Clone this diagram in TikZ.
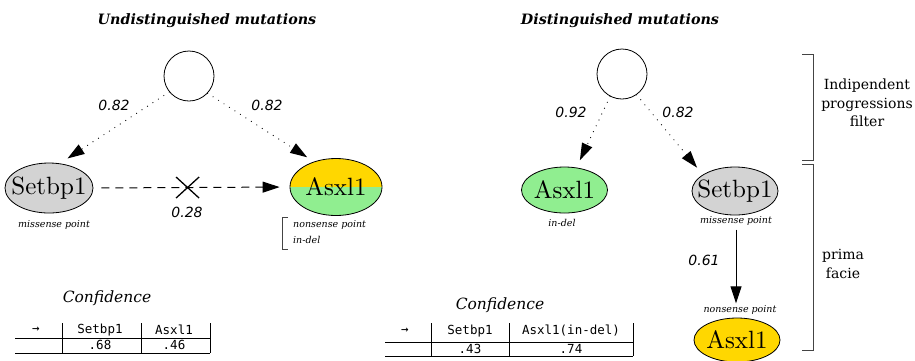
\documentclass[tikz,border=0pt]{standalone}
\usepackage{fontspec}
\newfontfamily\dserif{DejaVu Serif}
\newfontfamily\dsans{DejaVu Sans}
\newfontfamily\dmono{DejaVu Sans Mono}
\newfontfamily\lmten{lmroman10-regular}[Extension=.otf]
\usetikzlibrary{arrows.meta,shapes.geometric}
\definecolor{ggray}{HTML}{D3D3D3}
\definecolor{ggold}{HTML}{FFD700}
\definecolor{ggreen}{HTML}{90EE90}
\definecolor{brk}{HTML}{444444}
\newcommand{\gname}[1]{\makebox[0pt]{#1}}
\tikzset{
  gene/.style={ellipse, draw, line width=0.8pt, inner sep=0pt, font=\lmten\fontsize{25}{25}\selectfont},
  root/.style={circle, draw, line width=0.8pt, minimum size=50pt, inner sep=0pt},
  prob/.style={font=\dsans\itshape\fontsize{14}{14}\selectfont},
  note/.style={font=\dserif\itshape\fontsize{9.5}{9.5}\selectfont, inner sep=0pt},
  title/.style={font=\dserif\bfseries\itshape\fontsize{14.3}{14.3}\selectfont},
  conf/.style={font=\dserif\itshape\fontsize{15.5}{15.5}\selectfont},
  side/.style={font=\dserif\fontsize{14}{18.5}\selectfont, align=center},
  cell/.style={font=\dmono\fontsize{12.5}{12.5}\selectfont, inner sep=0pt},
  tip/.style={-{Triangle[length=17pt,width=11pt]}},
  dotarrow/.style={tip, line width=1.2pt, line cap=round, dash pattern=on 0pt off 6.5pt},
  dasharrow/.style={tip, line width=1pt, dash pattern=on 8pt off 6pt},
  solidarrow/.style={tip, line width=1pt},
  tline/.style={line width=0.9pt},
  bracketline/.style={line width=1pt, brk},
}
\begin{document}
\begin{tikzpicture}[x=1pt,y=-1pt]
\useasboundingbox (0,0) rectangle (915,360);

% ---------- left panel ----------
\node[title] (t1) at (207,21) {Undistinguished mutations};
\node[root] (c1) at (189,76) {};
\node[gene, fill=ggray, minimum width=88pt, minimum height=50pt] (s1) at (49,188) {\gname{Setbp1}};
\node[gene, minimum width=92pt, minimum height=57pt,
  path picture={\fill[ggold] (path picture bounding box.north west) rectangle (path picture bounding box.east);
                \fill[ggreen] (path picture bounding box.west) rectangle (path picture bounding box.south east);}] (a1) at (336,187) {\gname{Asxl1}};

\draw[dotarrow, shorten >=9pt] (c1.219) -- (s1.66);
\draw[dotarrow, shorten >=8pt] (c1.317) -- (a1.131);
\node[prob] (p1) at (114,105) {0.82};
\node[prob] (p2) at (267,105) {0.82};

\draw[dasharrow, shorten <=8pt, shorten >=10pt] (s1.east) -- node[pos=0.48, minimum width=22pt, minimum height=20pt, inner sep=0pt] (x1) {} (a1.west);
\draw[line width=1.3pt] (x1.north west) -- (x1.south east) (x1.north east) -- (x1.south west);
\node[prob] (p3) at (187,212) {0.28};

\node[note] (m1) at (54,225) {missense point};
\node[note, anchor=west] (n1) at (293,225) {nonsense point};
\node[note, anchor=west] (n1b) at (293,240) {in-del};
\draw[line width=0.8pt, brk] (288,217) -- (282,217) -- (282,249) -- (288,249);

\node[conf] (cf1) at (107,298) {Confidence};
\draw[tline] (62,323) -- (62,353);
\draw[tline] (141,323) -- (141,353);
\draw[tline] (210,323) -- (210,353);
\draw[tline] (15,338) -- (210,338);
\draw[tline] (15,353) -- (210,353);
\node[cell] (h10) at (36,330) {→};
\node[cell] (h11) at (100,330) {Setbp1};
\node[cell] (h12) at (174,330) {Asxl1};
\node[cell] (v11) at (100,345) {.68};
\node[cell] (v12) at (174,345) {.46};

% ---------- right panel ----------
\node[title] (t2) at (620,21) {Distinguished mutations};
\node[root] (c2) at (622,74) {};
\node[gene, fill=ggreen, minimum width=86pt, minimum height=46pt] (a2) at (564.5,190) {\gname{Asxl1}};
\node[gene, fill=ggray, minimum width=86pt, minimum height=48pt] (s2) at (735,191) {\gname{Setbp1}};
\node[gene, fill=ggold, minimum width=86pt, minimum height=44pt] (a3) at (737,340) {\gname{Asxl1}};

\draw[dotarrow, shorten >=8pt] (c2.242) -- (a2.62);
\draw[dotarrow, shorten >=9pt] (c2.305) -- (s2.153);
\node[prob] (p4) at (571,112) {0.92};
\node[prob] (p5) at (678,112) {0.82};

\node[note] (in2) at (562,223) {in-del};
\node[note] (m2) at (736,221) {missense point};
\node[note] (n2) at (740,310) {nonsense point};
\draw[solidarrow, shorten <=4pt, shorten >=2pt] (m2.south) -- (m2.south |- n2.north);
\node[prob] (p6) at (704,260) {0.61};

\node[conf] (cf2) at (500,305) {Confidence};
\draw[tline] (431,323) -- (431,356);
\draw[tline] (509,323) -- (509,356);
\draw[tline] (633,323) -- (633,356);
\draw[tline] (385,342) -- (633,342);
\draw[tline] (385,356) -- (633,356);
\node[cell] (h20) at (405,331) {→};
\node[cell] (h21) at (470,331) {Setbp1};
\node[cell] (h22) at (571,331) {Asxl1(in-del)};
\node[cell] (v21) at (470,349) {.43};
\node[cell] (v22) at (571,349) {.74};

% ---------- side brackets ----------
\draw[bracketline] (802,54) -- (813,54) -- (813,160) -- (802,160);
\draw[bracketline] (802,164) -- (813,164) -- (813,350) -- (802,350);
\node[side] (sd1) at (867,103) {Indipendent\\progressions\\filter};
\node[side] (sd2) at (843,264) {prima\\facie};
\end{tikzpicture}
\end{document}
